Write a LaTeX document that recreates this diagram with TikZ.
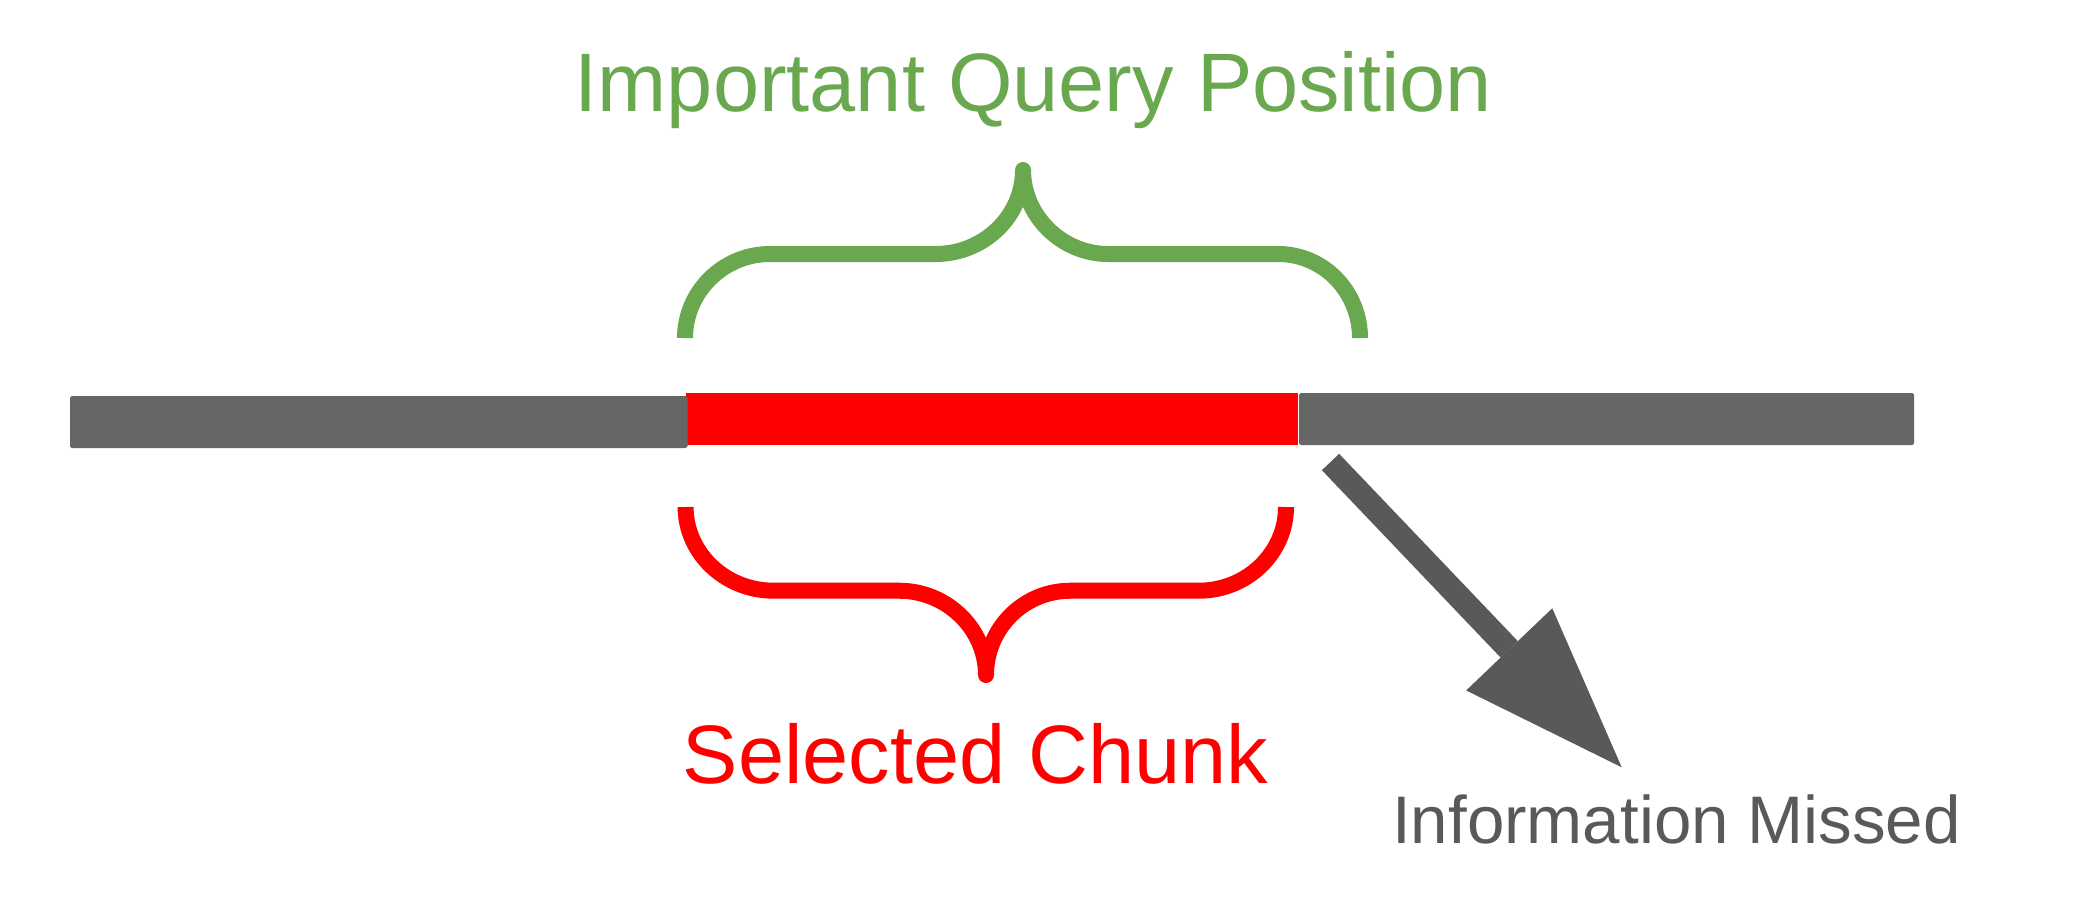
\documentclass[tikz,border=0pt]{standalone}
\usepackage{fontspec}
\setmainfont{Liberation Sans}
\usetikzlibrary{arrows.meta}
\definecolor{queryGreen}{HTML}{6AA84F}
\definecolor{chunkRed}{HTML}{FF0000}
\definecolor{barGray}{HTML}{666666}
\definecolor{missGray}{HTML}{595959}
\begin{document}
\begin{tikzpicture}[
                    brace/.style={line width=0.16cm, line join=round},
                    bar/.style={fill=barGray, rounded corners=0.5pt},
                    biglabel/.style={anchor=base, inner sep=0pt, font=\fontsize{23.6pt}{28pt}\selectfont},
                    missArrow/.style={draw=missGray, line width=0.238cm, -{Triangle[length=1.63cm, width=1.19cm, line width=0pt]}}]
                    % \draw[help lines] (0,0) grid (21,9);
                    \useasboundingbox (0,0) rectangle (20.91,9.08);
                    % the sequence
                    \fill [chunkRed] (6.855,4.63) rectangle (12.98,5.15);
                    \fill [bar] (0.70,4.60) rectangle (6.875,5.12);
                    \fill [bar] (12.99,4.63) rectangle (19.14,5.15);
                    % braces
                    \draw [brace, queryGreen] (6.85,5.70) .. controls (6.85,6.16) and (7.23,6.54) .. (7.70,6.54) -- (9.355,6.54)
                          .. controls (9.84,6.54) and (10.23,6.92) .. (10.23,7.38)
                          .. controls (10.23,6.92) and (10.62,6.54) .. (11.08,6.54) -- (12.78,6.54)
                          .. controls (13.24,6.54) and (13.60,6.16) .. (13.60,5.70);
                    \draw [brace, chunkRed] (6.856,4.01) .. controls (6.856,3.55) and (7.25,3.173) .. (7.736,3.173) -- (8.99,3.173)
                          .. controls (9.47,3.173) and (9.86,2.79) .. (9.86,2.33)
                          .. controls (9.86,2.79) and (10.23,3.173) .. (10.706,3.173) -- (11.986,3.173)
                          .. controls (12.47,3.173) and (12.86,3.55) .. (12.86,4.01);
                    % labels
                    \node [biglabel, text=queryGreen] (query) at (10.335,7.963) {Important Query Position};
                    \node [biglabel, text=chunkRed] (chunk) at (9.755,1.247) {Selected Chunk};
                    \node [anchor=base, inner sep=0pt, text=missGray, font=\fontsize{19.15pt}{23pt}\selectfont] (missed) at (16.765,0.647) {Information Missed};
                    % lost part
                    \coordinate (missFrom) at (13.305,4.46);
                    \coordinate (missTo) at (16.217,1.407);
                    \draw [missArrow] (missFrom) -- (missTo);
                \end{tikzpicture}
\end{document}
